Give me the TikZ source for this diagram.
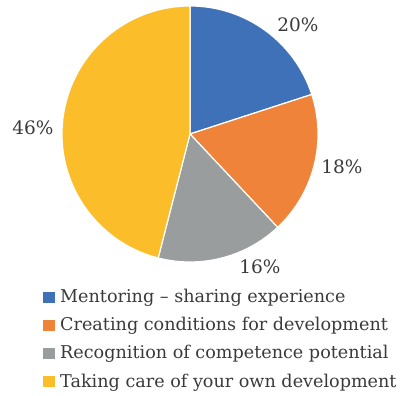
\documentclass[tikz,border=0pt]{standalone}
\usepackage{fontspec}
\setmainfont{DejaVu Serif}
\definecolor{mentor}{HTML}{3E71B8}
\definecolor{creating}{HTML}{F0833A}
\definecolor{recog}{HTML}{9A9D9D}
\definecolor{owncare}{HTML}{FBBD29}
\definecolor{textgray}{HTML}{3A3A3A}
\begin{document}
\begin{tikzpicture}[x=1pt,y=1pt,
    slice/.style={draw=white,line width=1.2pt,line join=round},
    pct/.style={text=textgray,font=\fontsize{18.5}{22}\selectfont},
    key/.style={minimum size=11.5pt,inner sep=0pt},
    entry/.style={anchor=base west,inner sep=0pt,text=textgray,font=\fontsize{17.6}{21}\selectfont}]
    \useasboundingbox (0,0) rectangle (403,395);
    \coordinate (O) at (190,261);
    % slices go clockwise from the top
    \filldraw[slice,fill=mentor] (O) -- ++(90:128) arc[start angle=90,end angle=18,radius=128] -- cycle;
    \filldraw[slice,fill=creating] (O) -- ++(18:128) arc[start angle=18,end angle=-46.8,radius=128] -- cycle;
    \filldraw[slice,fill=recog] (O) -- ++(-46.8:128) arc[start angle=-46.8,end angle=-104.4,radius=128] -- cycle;
    \filldraw[slice,fill=owncare] (O) -- ++(-104.4:128) arc[start angle=-104.4,end angle=-270,radius=128] -- cycle;
    \node[pct] (p20) at (298,370) {20\%};
    \node[pct] (p18) at (342,228) {18\%};
    \node[pct] (p16) at (260,128) {16\%};
    \node[pct] (p46) at (33,267) {46\%};
    % legend
    \node[key,fill=mentor] (k1) at (49,97.5) {};
    \node[entry] (l1) at (60,92) {Mentoring -- sharing experience};
    \node[key,fill=creating] (k2) at (49,69.5) {};
    \node[entry] (l2) at (60,64) {Creating conditions for development};
    \node[key,fill=recog] (k3) at (49,41.5) {};
    \node[entry] (l3) at (60,36) {Recognition of competence potential};
    \node[key,fill=owncare] (k4) at (49,13.5) {};
    \node[entry] (l4) at (60,8) {Taking care of your own development};
\end{tikzpicture}
\end{document}
